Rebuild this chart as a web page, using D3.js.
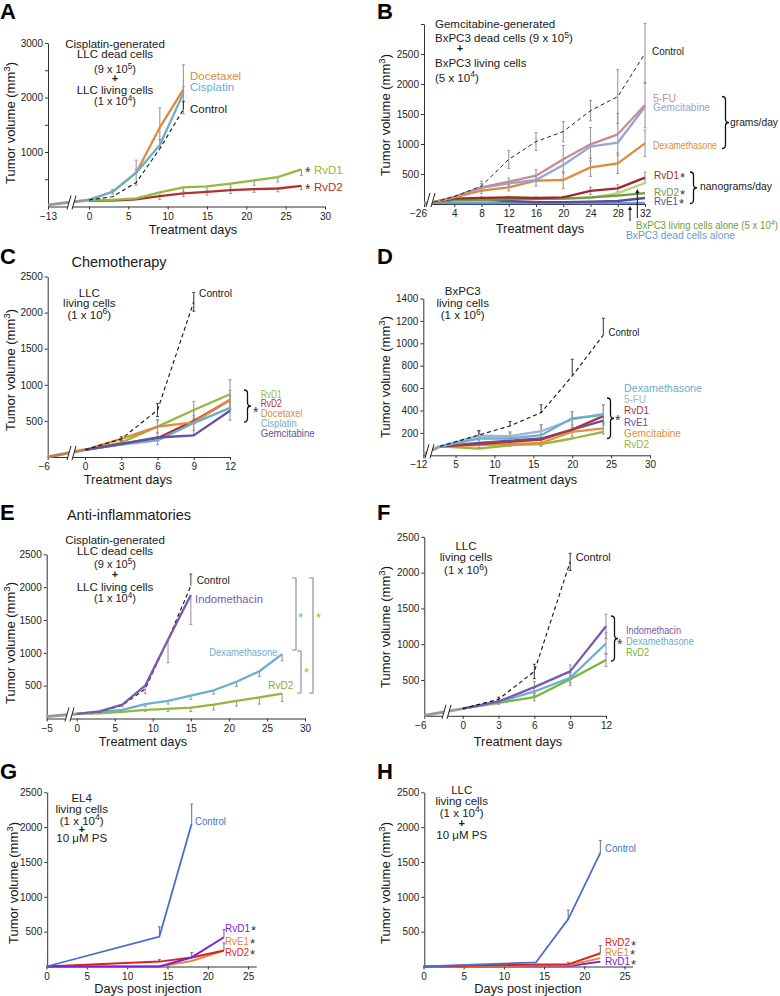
<!DOCTYPE html>
<html><head><meta charset="utf-8">
<script src="https://cdn.jsdelivr.net/npm/d3@7"></script>
<style>body{margin:0;background:#fff}svg{display:block}text{font-family:"Liberation Sans",Arial,Helvetica,sans-serif}</style>
</head><body><svg id="c" width="780" height="996"></svg>
<script>
// ================= DATA =================
// Panel A
const aPreDays = [-13, 0], aPreValues = [30, 120];
const aDaysShort = [0, 3, 6, 9, 12];
const aDaysLong = [0, 3, 6, 9, 12, 15, 18, 21, 24, 27];
const aControl = [120, 180, 440, 1060, 1780], aControlErr = [0, 0, 0, 0, 150];
const aDocetaxel = [120, 270, 620, 1450, 2150], aDocetaxelErr = [0, 40, 230, 360, 450];
const aCisplatin = [120, 270, 620, 1130, 2080], aCisplatinErr = [0, 30, 60, 100, 120];
const aRvD1 = [120, 120, 150, 260, 350, 370, 420, 480, 540, 680], aRvD1Err = [0, 0, 20, 60, 80, 80, 80, 90, 90, 110];
const aRvD2 = [110, 110, 130, 190, 240, 270, 300, 320, 330, 380], aRvD2Err = [0, 0, 0, 60, 60, 60, 60, 60, 60, 70];
// Panel B
const bPreDays = [-26, 1], bPreValues = [12, 20];
const bDays = [1, 4, 8, 12, 16, 20, 24, 28, 32];
const bControl = [30, 122, 300, 744, 1040, 1206, 1556, 1790, 2510], bControlErr = [0, 0, 80, 150, 150, 170, 170, 450, 500];
const b5FU = [30, 120, 278, 372, 472, 744, 994, 1161, 1650], b5FUErr = [0, 0, 60, 60, 100, 230, 280, 350, 380];
const bGemcitabine = [30, 120, 270, 345, 400, 650, 956, 1022, 1620];
const bDexamethasone = [30, 110, 222, 278, 389, 400, 611, 678, 1011], bDexamethasoneErr = [0, 0, 50, 60, 90, 140, 150, 170, 220];
const bRvD1 = [30, 90, 100, 110, 100, 110, 220, 260, 440], bRvD1Err = [0, 0, 20, 20, 20, 20, 60, 60, 90];
const bRvD2 = [30, 60, 60, 80, 80, 90, 110, 140, 180];
const bRvE1 = [30, 80, 70, 50, 30, 30, 40, 50, 100];
const bLivingAlone = [30, 60, 70, 110, 90, 90, 100, 180, 350];
const bDeadAlone = [20, 15, 15, 15, 15, 15, 15, 15, 20];
// Panel C
const cPreDays = [-6, 0], cPreValues = [0, 100];
const cDays = [0, 3, 6, 9, 12], cControlDays = [0, 3, 6, 9];
const cControl = [100, 250, 650, 2150], cControlErr = [0, 30, 90, 130];
const cRvD1 = [100, 200, 420, 650, 870], cRvD1Err = [0, 30, 80, 120, 200];
const cRvD2 = [100, 180, 260, 500, 790];
const cDocetaxel = [100, 250, 420, 480, 790], cDocetaxelErr = [0, 0, 100, 170, 130];
const cCisplatin = [100, 170, 230, 470, 680], cCisplatinErr = [0, 0, 60, 100, 170];
const cGemcitabine = [100, 180, 270, 300, 640];
// Panel D
const dPreDays = [-12, 3], dPreValues = [10, 80];
const dDays = [3, 8, 12, 16, 20, 24];
const dControl = [80, 181, 262, 381, 708, 1074], dControlErr = [0, 40, 40, 70, 150, 150];
const dDexamethasone = [80, 150, 150, 180, 330, 360], dDexamethasoneErr = [0, 40, 50, 90, 60, 90];
const d5FU = [80, 175, 170, 215, 320, 370], d5FUErr = [0, 40, 40, 60, 70, 80];
const dRvD1 = [80, 100, 120, 140, 230, 350];
const dRvE1 = [80, 110, 130, 150, 230, 310];
const dGemcitabine = [80, 90, 100, 110, 210, 240], dGemcitabineErr = [0, 20, 20, 30, 40, 50];
const dRvD2 = [80, 60, 90, 100, 150, 210];
// Panel E
const ePreDays = [-5, 0], ePreValues = [30, 70];
const eDaysShort = [0, 3, 6, 9, 12, 15];
const eDaysLong = [0, 3, 6, 9, 12, 15, 18, 21, 24, 27];
const eControl = [70, 100, 200, 450, 1200, 2020], eControlErr = [0, 0, 0, 0, 0, 180];
const eIndomethacin = [70, 110, 210, 500, 1200, 1880], eIndomethacinErr = [0, 0, 30, 120, 350, 450];
const eDexamethasone = [70, 100, 130, 220, 270, 350, 430, 560, 720, 980], eDexamethasoneErr = [0, 0, 30, 40, 50, 60, 60, 70, 80, 100];
const eRvD2 = [70, 80, 100, 130, 145, 165, 210, 270, 320, 380], eRvD2Err = [0, 0, 0, 20, 40, 60, 80, 80, 100, 120];
// Panel F
const fPreDays = [-6, 0], fPreValues = [5, 100];
const fDays = [0, 3, 6, 9, 12], fControlDays = [0, 3, 6, 9];
const fControl = [100, 230, 620, 2150], fControlErr = [0, 30, 100, 120];
const fIndomethacin = [100, 200, 400, 620, 1250], fIndomethacinErr = [0, 20, 80, 90, 170];
const fDexamethasone = [100, 190, 340, 530, 1010], fDexamethasoneErr = [0, 20, 60, 70, 150];
const fRvD2 = [100, 180, 260, 510, 780], fRvD2Err = [0, 20, 50, 90, 90];
// Panel G
const gControlDays = [0, 14, 18], gControl = [0, 430, 2050], gControlErr = [0, 140, 280];
const gDays = [0, 14, 18, 22];
const gRvD1 = [0, 0, 130, 420], gRvD1Err = [0, 0, 0, 110];
const gRvE1 = [0, 0, 80, 230];
const gRvD2 = [0, 70, 130, 230], gRvD2Err = [0, 30, 70, 110];
// Panel H
const hDays = [0, 14, 18, 22];
const hControl = [0, 60, 680, 1630], hControlErr = [0, 0, 130, 180];
const hRvD2 = [0, 30, 30, 190], hRvD2Err = [0, 0, 30, 110];
const hRvE1 = [0, 15, 15, 120];
const hRvD1 = [0, 5, 5, 70];

// Tick labels
const yTicks2500 = [500, 1000, 1500, 2000, 2500];
const aYTicks = [1000, 2000, 3000], aYMinor = [500, 1500, 2500];
const bYTicks = [500, 1000, 1500, 2000, 2500];
const dYTicks = [200, 400, 600, 800, 1000, 1200, 1400];
const aXTicks = [-13, 0, 5, 10, 15, 20, 25, 30];
const bXTicks = [-26, 4, 8, 12, 16, 20, 24, 28, 32];
const cXTicks = [-6, 0, 3, 6, 9, 12];
const dXTicks = [-12, 5, 10, 15, 20, 25, 30];
const eXTicks = [-5, 0, 5, 10, 15, 20, 25, 30];
const gXTicks = [0, 5, 10, 15, 20, 25];

// ================= DRAWING =================
const svg = d3.select('#c');
const COL = {
  green: '#93b840', red: '#b3302f', orange: '#e08a3c', blue: '#6aaed0', purple: '#6a4ea0',
  pink: '#c98b93', lav: '#8fa6d8', darkred: '#9a2a2e', bgreen: '#6e9e3a', bpurple: '#5a4b9e',
  lgreen: '#b8d37a', dblue: '#6a98d8', lav2: '#9fb5dd', dred: '#a63a3a', gorange: '#e0903a',
  indo: '#7a5aaa', gblue: '#4a6fc8', gpurple: '#7a22d8', gorg: '#e58a3a', gred: '#e0201a', pre: '#9a9a9a'
};

function addText(g, str, x, y, o = {}) {
  const size = o.size || 11.5;
  const t = g.append('text').attr('font-size', size).attr('fill', o.color || '#1a1a1a')
    .attr('text-anchor', o.anchor || 'start');
  if (o.rotate) t.attr('transform', `translate(${x},${y}) rotate(-90)`).attr('dy', '0.35em');
  else t.attr('x', x).attr('y', y).attr('dy', '0.35em');
  if (o.weight) t.attr('font-weight', o.weight);
  if (o.w) t.attr('textLength', o.w).attr('lengthAdjust', 'spacingAndGlyphs');
  const re = /\^(\d+)/g; let last = 0, m; const parts = [];
  while ((m = re.exec(str))) { parts.push({ t: str.slice(last, m.index) }); parts.push({ t: m[1], sup: true }); last = re.lastIndex; }
  parts.push({ t: str.slice(last) });
  let raised = false;
  parts.forEach(p => {
    if (!p.t) return;
    const ts = t.append('tspan').text(p.t);
    if (p.sup) { ts.attr('dy', -0.38 * size).attr('font-size', size * 0.75); raised = true; }
    else if (raised) { ts.attr('dy', 0.38 * size); raised = false; }
  });
  if (o.star) {
    const sx = o.w ? x + o.w + 1 : x + t.node().getComputedTextLength() + 1;
    g.append('text').attr('x', sx).attr('y', y + 2.5).attr('dy', '0.35em').attr('font-size', 13)
      .attr('fill', '#333').text('*');
  }
  return t;
}

function brace(g, x, y1, y2, w = 3.5) {
  const ym = (y1 + y2) / 2, r = 3.5;
  g.append('path').attr('fill', 'none').attr('stroke', '#111').attr('stroke-width', 1.3)
    .attr('d', `M${x},${y1} Q${x + w},${y1} ${x + w},${y1 + r} L${x + w},${ym - r} Q${x + w},${ym} ${x + 2 * w},${ym} Q${x + w},${ym} ${x + w},${ym + r} L${x + w},${y2 - r} Q${x + w},${y2} ${x},${y2}`);
}

function drawPanel(p) {
  const g = svg.append('g');
  const x = d3.scaleLinear().domain(p.xDomain).range(p.xRange);
  const y = d3.scaleLinear().domain([0, p.yMax]).range([p.yBottom, p.yTop]);
  const allY = p.yTicks.concat(p.yMinor || []);
  const ya = g.append('g').attr('transform', `translate(${p.axX},0)`)
    .call(d3.axisLeft(y).tickValues(allY).tickSize(3).tickSizeOuter(0).tickPadding(2)
      .tickFormat(d => p.yTicks.includes(d) ? d : ''));
  const xa = g.append('g').attr('transform', `translate(0,${p.yBottom})`)
    .call(d3.axisBottom(x).tickValues(p.xTicks).tickSize(3).tickSizeOuter(0).tickPadding(3));
  [ya, xa].forEach(a => {
    a.attr('font-family', null).attr('font-size', 10);
    a.selectAll('path,line').attr('stroke', '#333');
    a.selectAll('text').attr('fill', '#222');
  });
  if (p.preDx) xa.selectAll('.tick').filter(d => d === p.xDomain[0]).select('text').attr('dx', p.preDx);
  const line = d3.line().x(d => x(d[0])).y(d => y(d[1]));
  const L = g.append('g');
  if (p.pre) L.append('path').attr('d', line(d3.zip(p.pre.days, p.pre.values)))
    .attr('fill', 'none').attr('stroke', p.pre.color || COL.pre).attr('stroke-width', 3);
  p.series.forEach(s => {
    if (!s.err) return;
    s.days.forEach((d, i) => {
      const e = s.err[i]; if (!e) return;
      const v = s.values[i], dir = s.dir || 0;
      const hi = dir >= 0 ? v + e : v, lo = dir <= 0 ? v - e : v;
      const cx = x(d), c = s.errColor || '#999';
      L.append('line').attr('x1', cx).attr('x2', cx).attr('y1', y(lo)).attr('y2', y(hi)).attr('stroke', c).attr('stroke-width', 1.1);
      if (dir >= 0) L.append('line').attr('x1', cx - 1.5).attr('x2', cx + 1.5).attr('y1', y(hi)).attr('y2', y(hi)).attr('stroke', c);
      if (dir <= 0) L.append('line').attr('x1', cx - 1.5).attr('x2', cx + 1.5).attr('y1', y(lo)).attr('y2', y(lo)).attr('stroke', c);
    });
  });
  p.series.forEach(s => {
    L.append('path').attr('d', line(d3.zip(s.days, s.values))).attr('fill', 'none')
      .attr('stroke', s.color).attr('stroke-width', s.width || 2.3)
      .attr('stroke-dasharray', s.dash ? '4,3' : null).attr('stroke-linejoin', 'round');
  });
  if (p.brk) {
    const bx = p.brk, by = p.yBottom - 4;
    g.append('path').attr('d', `M${bx - 5},${by + 7} L${bx - 1},${by - 7} L${bx + 4},${by - 7} L${bx},${by + 7}Z`).attr('fill', '#fff');
    g.append('path').attr('d', `M${bx - 5},${by + 7} L${bx - 1},${by - 7} M${bx},${by + 7} L${bx + 4},${by - 7}`)
      .attr('stroke', '#222').attr('stroke-width', 1).attr('fill', 'none');
  }
  addText(g, p.letter, p.letterX, p.letterY, { size: 22, weight: 'bold', color: '#000' });
  addText(g, p.xTitle, p.xTitleX, p.xTitleY, { size: 12.8, anchor: 'middle' });
  addText(g, 'Tumor volume (mm^3)', p.yTitleX, p.yTitleY, { size: 13, anchor: 'middle', rotate: true });
  (p.texts || []).forEach(t => addText(g, t.s, t.x, t.y, t));
  if (p.extra) p.extra(g);
}

const TD = 'Treatment days', DPI = 'Days post injection';

const panels = [
  { letter: 'A', letterX: 0, letterY: 11, axX: 48, xDomain: [-13, 0, 30], xRange: [48, 89, 325], xTicks: aXTicks,
    yBottom: 206.5, yTop: 43, yMax: 3000, yTicks: aYTicks, yMinor: aYMinor, brk: 72,
    pre: { days: aPreDays, values: aPreValues },
    series: [
      { days: aDaysLong, values: aRvD2, err: aRvD2Err, dir: -1, color: COL.red },
      { days: aDaysLong, values: aRvD1, err: aRvD1Err, dir: -1, color: COL.green },
      { days: aDaysShort, values: aDocetaxel, err: aDocetaxelErr, color: COL.orange },
      { days: aDaysShort, values: aCisplatin, err: aCisplatinErr, dir: 1, color: COL.blue },
      { days: aDaysShort, values: aControl, err: aControlErr, dir: 1, errColor: '#333', color: '#111', dash: true, width: 1.1 }
    ],
    xTitle: TD, xTitleX: 193, xTitleY: 230, yTitleX: 10, yTitleY: 123,
    texts: [
      { s: 'Cisplatin-generated', x: 115, y: 43.5, anchor: 'middle' },
      { s: 'LLC dead cells', x: 115, y: 53.5, anchor: 'middle' },
      { s: '(9 x 10^5)', x: 115, y: 69, anchor: 'middle', size: 11 },
      { s: '+', x: 115, y: 78.5, anchor: 'middle', weight: 'bold', size: 11 },
      { s: 'LLC living cells', x: 115, y: 90, anchor: 'middle' },
      { s: '(1 x 10^4)', x: 115, y: 101, anchor: 'middle', size: 11 },
      { s: 'Docetaxel', x: 190, y: 76, color: COL.orange },
      { s: 'Cisplatin', x: 190, y: 87.3, color: COL.blue },
      { s: 'Control', x: 190, y: 109.3 },
      { s: '*', x: 305, y: 172, color: '#333', size: 14 },
      { s: 'RvD1', x: 314, y: 170, color: COL.green },
      { s: '*', x: 305, y: 189, color: '#333', size: 14 },
      { s: 'RvD2', x: 314, y: 187, color: '#c02a28' }
    ] },
  { letter: 'B', letterX: 377, letterY: 11, axX: 424, xDomain: [-26, 0, 32], xRange: [424, 427, 645], xTicks: bXTicks, preDx: -6,
    yBottom: 204, yTop: 24, yMax: 3000, yTicks: bYTicks, yMinor: [3000], brk: 431,
    pre: { days: bPreDays, values: bPreValues, color: '#7a9ad0' },
    series: [
      { days: bDays, values: bDeadAlone, color: COL.dblue },
      { days: bDays, values: bRvE1, color: COL.bpurple },
      { days: bDays, values: bLivingAlone, color: COL.lgreen },
      { days: bDays, values: bRvD2, color: COL.bgreen },
      { days: bDays, values: bRvD1, err: bRvD1Err, color: COL.darkred },
      { days: bDays, values: bDexamethasone, err: bDexamethasoneErr, color: COL.orange },
      { days: bDays, values: bGemcitabine, color: COL.lav },
      { days: bDays, values: b5FU, err: b5FUErr, color: COL.pink },
      { days: bDays, values: bControl, err: bControlErr, color: '#222', dash: true, width: 1 }
    ],
    xTitle: TD, xTitleX: 540, xTitleY: 228.5, yTitleX: 385, yTitleY: 115,
    texts: [
      { s: 'Gemcitabine-generated', x: 435, y: 23.5 },
      { s: 'BxPC3 dead cells (9 x 10^5)', x: 435, y: 38 },
      { s: '+', x: 460, y: 48.5, anchor: 'middle', weight: 'bold', size: 11 },
      { s: 'BxPC3 living cells', x: 435, y: 63 },
      { s: '(5 x 10^4)', x: 435, y: 77.5 },
      { s: 'Control', x: 652, y: 51, w: 32 },
      { s: '5-FU', x: 653, y: 97.7, color: COL.pink, w: 23 },
      { s: 'Gemcitabine', x: 653, y: 107.3, color: COL.lav, w: 57 },
      { s: 'Dexamethasone', x: 653, y: 145, color: COL.orange, w: 64 },
      { s: 'grams/day', x: 730, y: 122.5, w: 48, size: 11 },
      { s: 'RvD1', x: 654, y: 175, color: COL.darkred, star: true, w: 25 },
      { s: 'RvD2', x: 654, y: 191.7, color: COL.bgreen, star: true, w: 25 },
      { s: 'RvE1', x: 654, y: 200.5, color: COL.bpurple, star: true, w: 24 },
      { s: 'nanograms/day', x: 700, y: 186, w: 72, size: 11 },
      { s: 'BxPC3 living cells alone (5 x 10^4)', x: 636, y: 225.5, color: COL.bgreen, w: 142, size: 10.5 },
      { s: 'BxPC3 dead cells alone', x: 626, y: 235, color: COL.dblue, w: 109, size: 10.5 }
    ],
    extra: g => {
      brace(g, 722, 96.5, 148.5);
      brace(g, 690, 172, 203.5);
      [[630, 221, 206], [637.3, 218, 189]].forEach(([ax, y1, y2]) => {
        g.append('line').attr('x1', ax).attr('x2', ax).attr('y1', y1).attr('y2', y2 + 3).attr('stroke', '#111').attr('stroke-width', 1);
        g.append('path').attr('d', `M${ax - 2},${y2 + 4} L${ax},${y2} L${ax + 2},${y2 + 4}Z`).attr('fill', '#111');
      });
    } },
  { letter: 'C', letterX: 0, letterY: 256, axX: 47.7, xDomain: [-6, 0, 12], xRange: [47.7, 85, 230], xTicks: cXTicks, preDx: -4,
    yBottom: 457, yTop: 276.5, yMax: 2500, yTicks: yTicks2500, brk: 72,
    pre: { days: cPreDays, values: cPreValues, color: '#b98650' },
    series: [
      { days: cDays, values: cRvD1, err: cRvD1Err, color: COL.green },
      { days: cDays, values: cRvD2, color: COL.red },
      { days: cDays, values: cDocetaxel, err: cDocetaxelErr, color: COL.orange },
      { days: cDays, values: cCisplatin, err: cCisplatinErr, color: COL.blue },
      { days: cDays, values: cGemcitabine, color: COL.purple },
      { days: cControlDays, values: cControl, err: cControlErr, errColor: '#444', color: '#111', dash: true, width: 1.1 }
    ],
    xTitle: TD, xTitleX: 128, xTitleY: 480, yTitleX: 10, yTitleY: 370,
    texts: [
      { s: 'Chemotherapy', x: 119, y: 262, anchor: 'middle', size: 14.5 },
      { s: 'LLC', x: 89.3, y: 292.7, anchor: 'middle' },
      { s: 'living cells', x: 89.3, y: 303.3, anchor: 'middle' },
      { s: '(1 x 10^6)', x: 89.3, y: 314.5, anchor: 'middle' },
      { s: 'Control', x: 199, y: 293.3, w: 33 },
      { s: 'RvD1', x: 260.7, y: 394, color: COL.green, w: 21, size: 11 },
      { s: 'RvD2', x: 260.7, y: 403.5, color: COL.red, w: 21, size: 11 },
      { s: 'Docetaxel', x: 260.7, y: 413.3, color: COL.orange, w: 42, size: 11 },
      { s: 'Cisplatin', x: 260.7, y: 423, color: COL.blue, w: 36, size: 11 },
      { s: 'Gemcitabine', x: 260.7, y: 433, color: COL.purple, w: 54, size: 11 },
      { s: '*', x: 253, y: 412, color: '#333', size: 14 }
    ],
    extra: g => brace(g, 244, 390, 422) },
  { letter: 'D', letterX: 377, letterY: 256, axX: 423.3, xDomain: [-12, 3, 30], xRange: [423.3, 440, 650], xTicks: dXTicks, preDx: -5,
    yBottom: 455.3, yTop: 298.5, yMax: 1400, yTicks: dYTicks, brk: 430,
    pre: { days: dPreDays, values: dPreValues },
    series: [
      { days: dDays, values: dRvD2, color: COL.green },
      { days: dDays, values: dGemcitabine, err: dGemcitabineErr, color: COL.gorange },
      { days: dDays, values: dRvE1, color: COL.purple },
      { days: dDays, values: dRvD1, color: COL.dred },
      { days: dDays, values: d5FU, err: d5FUErr, color: COL.lav2 },
      { days: dDays, values: dDexamethasone, err: dDexamethasoneErr, color: COL.blue },
      { days: dDays, values: dControl, err: dControlErr, dir: 1, errColor: '#444', color: '#111', dash: true, width: 1.1 }
    ],
    xTitle: TD, xTitleX: 533, xTitleY: 480, yTitleX: 385, yTitleY: 377,
    texts: [
      { s: 'BxPC3', x: 462.7, y: 290.7, anchor: 'middle' },
      { s: 'living cells', x: 462.7, y: 302.7, anchor: 'middle' },
      { s: '(1 x 10^6)', x: 462.7, y: 315, anchor: 'middle' },
      { s: 'Control', x: 608.5, y: 331.7, w: 31 },
      { s: 'Dexamethasone', x: 624, y: 388.3, color: COL.blue, w: 78 },
      { s: '5-FU', x: 624, y: 399, color: COL.lav2, w: 22 },
      { s: 'RvD1', x: 624, y: 410, color: COL.dred, w: 25 },
      { s: 'RvE1', x: 624, y: 421.5, color: COL.purple, w: 24 },
      { s: 'Gemcitabine', x: 624, y: 433, color: COL.gorange, w: 57 },
      { s: 'RvD2', x: 624, y: 444, color: COL.green, w: 25 },
      { s: '*', x: 615, y: 420.5, color: '#333', size: 14 }
    ],
    extra: g => brace(g, 607, 398, 438.5) },
  { letter: 'E', letterX: 0, letterY: 512, axX: 46.7, xDomain: [-5, 0, 30], xRange: [46.7, 76.7, 305], xTicks: eXTicks,
    yBottom: 718.5, yTop: 554.3, yMax: 2500, yTicks: yTicks2500, brk: 70,
    pre: { days: ePreDays, values: ePreValues },
    series: [
      { days: eDaysLong, values: eRvD2, err: eRvD2Err, dir: -1, color: COL.green },
      { days: eDaysLong, values: eDexamethasone, err: eDexamethasoneErr, dir: -1, color: COL.blue },
      { days: eDaysShort, values: eControl, err: eControlErr, dir: 1, errColor: '#555', color: '#111', dash: true, width: 1.1 },
      { days: eDaysShort, values: eIndomethacin, err: eIndomethacinErr, dir: -1, color: COL.indo }
    ],
    xTitle: TD, xTitleX: 143, xTitleY: 741.7, yTitleX: 10, yTitleY: 643,
    texts: [
      { s: 'Anti-inflammatories', x: 129, y: 515, anchor: 'middle', size: 14.5 },
      { s: 'Cisplatin-generated', x: 115, y: 540, anchor: 'middle' },
      { s: 'LLC dead cells', x: 115, y: 550.5, anchor: 'middle' },
      { s: '(9 x 10^5)', x: 115, y: 564, anchor: 'middle', size: 11 },
      { s: '+', x: 115, y: 574, anchor: 'middle', weight: 'bold', size: 11 },
      { s: 'LLC living cells', x: 115, y: 586.7, anchor: 'middle' },
      { s: '(1 x 10^4)', x: 115, y: 598.5, anchor: 'middle', size: 11 },
      { s: 'Control', x: 196.7, y: 580, w: 33 },
      { s: 'Indomethacin', x: 195, y: 599.3, color: COL.indo, w: 68 },
      { s: 'Dexamethasone', x: 209.3, y: 651.7, color: COL.blue, w: 68 },
      { s: 'RvD2', x: 268.3, y: 685, color: '#8aa83a', w: 25 },
      { s: '*', x: 298, y: 617, color: COL.blue, size: 13 },
      { s: '*', x: 304, y: 672, color: '#a8b840', size: 13 },
      { s: '*', x: 316, y: 617, color: '#a8b840', size: 13 }
    ],
    extra: g => {
      [[296, 578, 650], [301, 651, 693], [313, 578, 693]].forEach(([bx, y1, y2]) =>
        g.append('path').attr('d', `M${bx - 4},${y1} H${bx} V${y2} H${bx - 4}`).attr('fill', 'none').attr('stroke', '#888').attr('stroke-width', 1.1));
    } },
  { letter: 'F', letterX: 377, letterY: 512, axX: 424.3, xDomain: [-6, 0, 12], xRange: [424.3, 462.7, 606], xTicks: cXTicks, preDx: -4,
    yBottom: 715.8, yTop: 536.8, yMax: 2500, yTicks: yTicks2500, brk: 447,
    pre: { days: fPreDays, values: fPreValues },
    series: [
      { days: fDays, values: fRvD2, err: fRvD2Err, color: '#7bb33a' },
      { days: fDays, values: fDexamethasone, err: fDexamethasoneErr, color: COL.blue },
      { days: fDays, values: fIndomethacin, err: fIndomethacinErr, color: COL.indo },
      { days: fControlDays, values: fControl, err: fControlErr, errColor: '#444', color: '#111', dash: true, width: 1.1 }
    ],
    xTitle: TD, xTitleX: 518, xTitleY: 741.7, yTitleX: 385, yTitleY: 627,
    texts: [
      { s: 'LLC', x: 466, y: 546, anchor: 'middle' },
      { s: 'living cells', x: 466, y: 557.3, anchor: 'middle' },
      { s: '(1 x 10^6)', x: 466, y: 570, anchor: 'middle' },
      { s: 'Control', x: 575.7, y: 556.7, w: 35 },
      { s: 'Indomethacin', x: 626, y: 630, color: COL.indo, w: 55 },
      { s: 'Dexamethasone', x: 626, y: 640.5, color: COL.blue, w: 68 },
      { s: 'RvD2', x: 626, y: 651.5, color: '#7bb33a', w: 23 },
      { s: '*', x: 617, y: 644, color: '#333', size: 14 }
    ],
    extra: g => brace(g, 611, 616, 661) },
  { letter: 'G', letterX: 0, letterY: 771, axX: 47.2, xDomain: [0, 26], xRange: [46.5, 256.2], xTicks: gXTicks,
    yBottom: 966.5, yTop: 792.3, yMax: 2500, yTicks: yTicks2500,
    series: [
      { days: gDays, values: gRvE1, color: COL.gorg, width: 2 },
      { days: gDays, values: gRvD2, err: gRvD2Err, dir: 1, errColor: '#777', color: COL.gred, width: 2 },
      { days: gDays, values: gRvD1, err: gRvD1Err, dir: 1, errColor: '#777', color: COL.gpurple, width: 2 },
      { days: gControlDays, values: gControl, err: gControlErr, dir: 1, errColor: '#777', color: COL.gblue, width: 1.8 }
    ],
    xTitle: DPI, xTitleX: 148, xTitleY: 989, yTitleX: 13, yTitleY: 883,
    texts: [
      { s: 'EL4', x: 81.7, y: 797.7, anchor: 'middle' },
      { s: 'living cells', x: 81.7, y: 809.3, anchor: 'middle' },
      { s: '(1 x 10^4)', x: 81.7, y: 820.5, anchor: 'middle' },
      { s: '+', x: 81.7, y: 829.3, anchor: 'middle', weight: 'bold', size: 11 },
      { s: '10 \u03bcM PS', x: 81.7, y: 838, anchor: 'middle' },
      { s: 'Control', x: 195, y: 821, color: COL.gblue, w: 31 },
      { s: 'RvD1', x: 225, y: 927.7, color: COL.gpurple, star: true, w: 25 },
      { s: 'RvE1', x: 225, y: 941, color: COL.gorg, star: true, w: 24 },
      { s: 'RvD2', x: 225, y: 952, color: COL.gred, star: true, w: 24 }
    ] },
  { letter: 'H', letterX: 377, letterY: 771, axX: 424.3, xDomain: [0, 26], xRange: [423.5, 632.5], xTicks: gXTicks,
    yBottom: 966.5, yTop: 792.3, yMax: 2500, yTicks: yTicks2500,
    series: [
      { days: hDays, values: hRvD1, color: COL.gpurple, width: 2 },
      { days: hDays, values: hRvE1, color: COL.gorg, width: 2 },
      { days: hDays, values: hRvD2, err: hRvD2Err, dir: 1, errColor: '#777', color: COL.gred, width: 2 },
      { days: hDays, values: hControl, err: hControlErr, dir: 1, errColor: '#777', color: COL.gblue, width: 1.8 }
    ],
    xTitle: DPI, xTitleX: 528, xTitleY: 989, yTitleX: 385, yTitleY: 883,
    texts: [
      { s: 'LLC', x: 461.7, y: 789.5, anchor: 'middle' },
      { s: 'living cells', x: 461.7, y: 801, anchor: 'middle' },
      { s: '(1 x 10^4)', x: 461.7, y: 812.7, anchor: 'middle' },
      { s: '+', x: 461.7, y: 822.7, anchor: 'middle', weight: 'bold', size: 11 },
      { s: '10 \u03bcM PS', x: 461.7, y: 835, anchor: 'middle' },
      { s: 'Control', x: 605, y: 847.7, color: COL.gblue, w: 31 },
      { s: 'RvD2', x: 605, y: 942.7, color: COL.gred, star: true, w: 25, size: 10.5 },
      { s: 'RvE1', x: 605, y: 952.2, color: COL.gorg, star: true, w: 24, size: 10.5 },
      { s: 'RvD1', x: 605, y: 961.7, color: COL.gpurple, star: true, w: 25, size: 10.5 }
    ] }
];

panels.forEach(drawPanel);
</script></body></html>
